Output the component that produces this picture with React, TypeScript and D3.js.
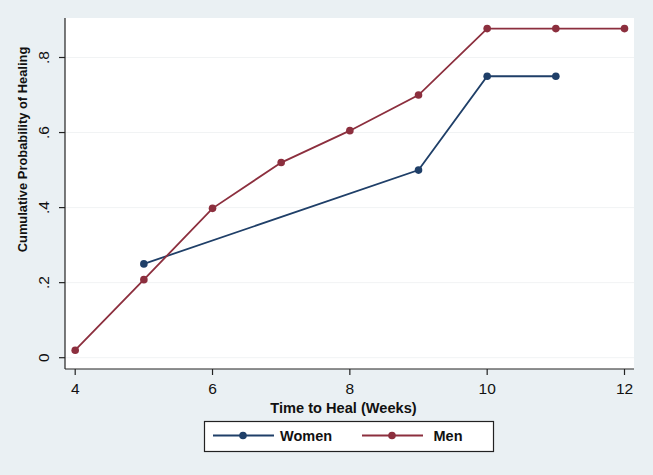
import React from "react";
import * as d3 from "d3";

const menWeeks = [4, 5, 6, 7, 8, 9, 10, 11, 12];
const menValues = [0.02, 0.208, 0.398, 0.52, 0.605, 0.70, 0.877, 0.877, 0.877];
const womenWeeks = [5, 9, 10, 11];
const womenValues = [0.25, 0.5, 0.75, 0.75];
const xTicks = [4, 6, 8, 10, 12];
const yTicks = [0, 0.2, 0.4, 0.6, 0.8];
const yTickLabels = ["0", ".2", ".4", ".6", ".8"];

const W = 653;
const H = 475;
const NAVY = "#1f3f68";
const MAROON = "#8c2f3e";
const FONT = "'Liberation Sans', Arial, sans-serif";

export default function App() {
  const x = d3.scaleLinear().domain([4, 12]).range([75.2, 624.5]);
  const y = d3.scaleLinear().domain([0, 0.8]).range([357.7, 57.5]);
  const plotLeft = 65, plotRight = 634, plotTop = 18, plotBottom = 369;

  const line = d3.line<[number, number]>().x((d) => x(d[0])).y((d) => y(d[1]));
  const men: [number, number][] = menWeeks.map((w, i) => [w, menValues[i]]);
  const women: [number, number][] = womenWeeks.map((w, i) => [w, womenValues[i]]);

  return (
    <svg width={W} height={H} style={{ position: "absolute", left: 0, top: 0, display: "block" }} fontFamily={FONT}>
      <rect x={0} y={0} width={W} height={H} fill="#eaf0f3" />
      <rect x={plotLeft} y={plotTop} width={plotRight - plotLeft} height={plotBottom - plotTop} fill="#ffffff" />
      {yTicks.map((t) => (
        <line key={"g" + t} x1={plotLeft} x2={plotRight} y1={y(t)} y2={y(t)} stroke="#f1f3f4" strokeWidth={1} />
      ))}
      {/* axes */}
      <line x1={plotLeft} x2={plotLeft} y1={plotTop} y2={plotBottom} stroke="#222" strokeWidth={1.2} />
      <line x1={plotLeft} x2={plotRight} y1={plotBottom} y2={plotBottom} stroke="#222" strokeWidth={1.2} />
      {yTicks.map((t, i) => (
        <g key={"y" + t}>
          <line x1={plotLeft - 6} x2={plotLeft} y1={y(t)} y2={y(t)} stroke="#222" strokeWidth={1.2} />
          <text
            transform={`translate(49,${y(t)}) rotate(-90)`}
            textAnchor="middle"
            fontSize={15.5}
            fill="#111"
          >
            {yTickLabels[i]}
          </text>
        </g>
      ))}
      {xTicks.map((t) => (
        <g key={"x" + t}>
          <line x1={x(t)} x2={x(t)} y1={plotBottom} y2={plotBottom + 6} stroke="#222" strokeWidth={1.2} />
          <text x={x(t)} y={393.8} textAnchor="middle" fontSize={15.5} fill="#111">
            {t}
          </text>
        </g>
      ))}
      <text
        transform={`translate(26.5,149.5) rotate(-90)`}
        textAnchor="middle"
        fontSize={12.9}
        fontWeight="bold"
        fill="#111"
      >
        Cumulative Probability of Healing
      </text>
      <text x={343.5} y={413} textAnchor="middle" fontSize={14.6} fontWeight="bold" fill="#111">
        Time to Heal (Weeks)
      </text>

      {/* series */}
      <path d={line(women) || ""} fill="none" stroke={NAVY} strokeWidth={1.8} />
      <path d={line(men) || ""} fill="none" stroke={MAROON} strokeWidth={1.8} />
      {women.map((d, i) => (
        <circle key={"w" + i} cx={x(d[0])} cy={y(d[1])} r={3.8} fill={NAVY} />
      ))}
      {men.map((d, i) => (
        <circle key={"m" + i} cx={x(d[0])} cy={y(d[1])} r={3.8} fill={MAROON} />
      ))}

      {/* legend */}
      <rect x={204.5} y={421.5} width={289} height={30} fill="#ffffff" stroke="#222" strokeWidth={1.2} />
      <line x1={213} x2={274} y1={435.5} y2={435.5} stroke={NAVY} strokeWidth={1.8} />
      <circle cx={243} cy={435.5} r={3.8} fill={NAVY} />
      <text x={280} y={440.5} fontSize={14.5} fontWeight="bold" fill="#111">Women</text>
      <line x1={362} x2={423} y1={435.5} y2={435.5} stroke={MAROON} strokeWidth={1.8} />
      <circle cx={392} cy={435.5} r={3.8} fill={MAROON} />
      <text x={433.5} y={440.5} fontSize={14.5} fontWeight="bold" fill="#111">Men</text>
    </svg>
  );
}
